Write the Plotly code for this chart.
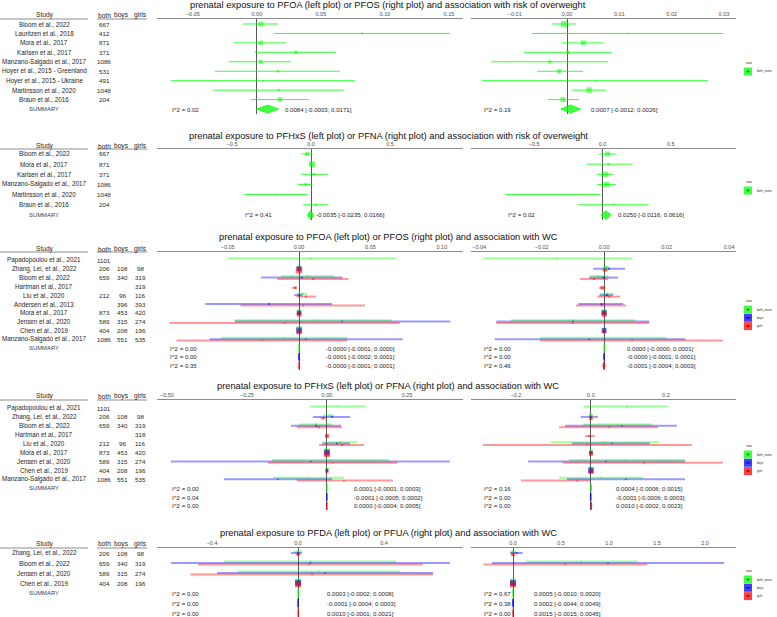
import plotly.graph_objects as go

# ======================= DATA =======================
# ---- Panel 1: risk of overweight, PFOA (left) / PFOS (right)
p1_title = "prenatal exposure to PFOA (left plot) or PFOS (right plot) and association with risk of overweight"
p1_studies = ["Bloom et al., 2022", "Lauritzen et al., 2018", "Mora et al., 2017",
              "Karlsen et al., 2017", "Manzano-Salgado et al., 2017",
              "Hoyer et al., 2015 - Greenland", "Hoyer et al., 2015 - Ukraine",
              "Martinsson et al., 2020", "Braun et al., 2016"]
p1_n_both = [667, 412, 871, 371, 1086, 531, 491, 1048, 204]
p1_pfoa_est = [0.0031, 0.082, 0.003, 0.0305, 0.003, 0.0164, 0.0047, 0.0172, 0.018]
p1_pfoa_lo = [-0.011, 0.0133, -0.018, -0.0016, -0.0219, -0.0328, -0.0672, -0.0344, -0.0047]
p1_pfoa_hi = [0.0164, 0.151, 0.0227, 0.0617, 0.0266, 0.0648, 0.0766, 0.068, 0.0406]
p1_pfoa_wt = [5, 2, 4.5, 3.5, 4, 2.5, 1.5, 2.5, 4.5]
p1_pfoa_sum = [0.0084, -0.0003, 0.0171]
p1_pfoa_i2 = 0.02
p1_pfos_est = [-0.0006, 0.0117, 0.0031, 0.0002, -0.0033, -0.0015, 0.0055, 0.0042, -0.0008]
p1_pfos_lo = [-0.0029, -0.0067, -0.001, -0.0082, -0.0145, -0.0057, -0.0163, 0.001, -0.0036]
p1_pfos_hi = [0.0017, 0.0298, 0.0071, 0.0086, 0.0078, 0.0031, 0.027, 0.0075, 0.0023]
p1_pfos_wt = [6, 1.5, 5, 3.5, 3, 4.5, 1.5, 5.5, 5]
p1_pfos_sum = [0.0007, -0.0012, 0.0026]
p1_pfos_i2 = 0.19

# ---- Panel 2: risk of overweight, PFHxS (left) / PFNA (right)
p2_title = "prenatal exposure to PFHxS (left plot) or PFNA (right plot) and association with risk of overweight"
p2_studies = ["Bloom et al., 2022", "Mora et al., 2017", "Karlsen et al., 2017",
              "Manzano-Salgado et al., 2017", "Martinsson et al., 2020", "Braun et al., 2016"]
p2_n_both = [667, 871, 371, 1086, 1048, 204]
p2_pfhxs_est = [-0.025, 0.006, 0.019, -0.032, -0.228, 0.032]
p2_pfhxs_lo = [-0.063, -0.01, -0.063, -0.082, -0.424, -0.051]
p2_pfhxs_hi = [0.006, 0.022, 0.108, 0.006, -0.025, 0.108]
p2_pfhxs_wt = [4, 6, 2.5, 3, 1.5, 2.5]
p2_pfhxs_sum = [-0.0035, -0.0235, 0.0166]
p2_pfhxs_i2 = 0.41
p2_pfna_est = [0.037, 0.044, 0.022, 0.029, -0.36, 0.081]
p2_pfna_lo = [-0.029, -0.118, -0.044, -0.037, -0.713, -0.176]
p2_pfna_hi = [0.103, 0.22, 0.081, 0.096, -0.015, 0.338]
p2_pfna_wt = [5, 2.5, 5.5, 5.5, 1.5, 2]
p2_pfna_sum = [0.0250, -0.0116, 0.0616]
p2_pfna_i2 = 0.02

# ---- Panel 3: WC, PFOA (left) / PFOS (right), by sex
p3_title = "prenatal exposure to PFOA (left plot) or PFOS (right plot) and association with WC"
p3_studies = ["Papadopoulou et al., 2021", "Zhang, Lei, et al., 2022", "Bloom et al., 2022",
              "Hartman et al., 2017", "Liu et al., 2020", "Andersen et al., 2013",
              "Mora et al., 2017", "Jensen et al., 2020", "Chen et al., 2019",
              "Manzano-Salgado et al., 2017"]
p3_n_both = [1101, 206, 659, None, 212, None, 873, 589, 404, 1086]
p3_n_boys = [None, 108, 340, None, 96, 396, 453, 315, 208, 551]
p3_n_girls = [None, 98, 319, 319, 116, 393, 420, 274, 196, 535]
p3_pfoa_est_both = [0.0085, 0.0, 0.0057, None, 0.0024, None, 0.0, 0.0099, 0.0, -0.0106]
p3_pfoa_lo_both = [-0.050, -0.001, -0.0127, None, -0.0016, None, -0.0015, -0.0452, -0.001, -0.0549]
p3_pfoa_hi_both = [0.0676, 0.001, 0.0246, None, 0.0057, None, 0.0015, 0.0646, 0.001, 0.0338]
p3_pfoa_wt_both = [1.5, 4, 2, None, 2, None, 4, 1.5, 5, 1.5]
p3_pfoa_est_boys = [None, 0.0, 0.0021, None, 0.0, -0.0211, 0.0, 0.0302, 0.0, 0.0047]
p3_pfoa_lo_boys = [None, -0.001, -0.0268, None, -0.0035, -0.0657, -0.0015, -0.045, -0.001, -0.0628]
p3_pfoa_hi_boys = [None, 0.001, 0.0304, None, 0.0024, 0.0230, 0.0015, 0.106, 0.001, 0.0725]
p3_pfoa_wt_boys = [None, 5, 2, None, 2, 2, 4.5, 1.5, 6, 1.5]
p3_pfoa_est_girls = [None, 0.0, 0.0099, -0.0028, 0.0047, 0.0028, 0.0, -0.0099, 0.0, -0.026]
p3_pfoa_lo_girls = [None, -0.001, -0.0153, -0.0049, -0.0019, -0.0411, -0.0015, -0.0908, -0.001, -0.0859]
p3_pfoa_hi_girls = [None, 0.001, 0.0346, -0.0014, 0.0117, 0.0462, 0.0015, 0.0704, 0.001, 0.0338]
p3_pfoa_wt_girls = [None, 6.5, 2, 2.5, 2, 1.5, 4.5, 1.5, 5, 1.5]
p3_pfoa_sum_both = [-0.00002, -0.0001, 0.00004]
p3_pfoa_sum_boys = [-0.0001, -0.0002, 0.0001]
p3_pfoa_sum_girls = [-0.00002, -0.0001, 0.0001]
p3_pfoa_i2 = [0.00, 0.00, 0.35]
p3_pfos_est_both = [-0.0150, 0.0006, -0.0019, None, 0.001, None, 0.0, -0.010, 0.0, -0.0002]
p3_pfos_lo_both = [-0.0387, -0.0005, -0.0045, None, -0.0013, None, -0.0008, -0.0298, -0.0005, -0.0205]
p3_pfos_hi_both = [0.0090, 0.0017, 0.0013, None, 0.0032, None, 0.0008, 0.0099, 0.0005, 0.020]
p3_pfos_wt_both = [1.5, 3, 2, None, 2, None, 4.5, 1.5, 3, 1.5]
p3_pfos_est_boys = [None, 0.0016, -0.0003, None, 0.0009, -0.0008, 0.0, -0.010, 0.0, -0.0048]
p3_pfos_lo_boys = [None, -0.0035, -0.0048, None, -0.0015, -0.0083, -0.0008, -0.0345, -0.0005, -0.035]
p3_pfos_hi_boys = [None, 0.0067, 0.0045, None, 0.0028, 0.0061, 0.0008, 0.0144, 0.0005, 0.026]
p3_pfos_wt_boys = [None, 2, 2, None, 2, 2, 5, 1.5, 5, 1.5]
p3_pfos_est_girls = [None, 0.0003, -0.0032, -0.0006, 0.0016, -0.0008, 0.0, -0.010, 0.0, 0.009]
p3_pfos_lo_girls = [None, -0.0006, -0.0077, -0.0016, -0.0022, -0.009, -0.0008, -0.0345, -0.0006, -0.0205]
p3_pfos_hi_girls = [None, 0.0012, 0.0013, 0.0004, 0.0051, 0.007, 0.0008, 0.0144, 0.0006, 0.038]
p3_pfos_wt_girls = [None, 3, 2, 3.5, 2, 2, 5, 1.5, 3.5, 1.5]
p3_pfos_sum_both = [0.00003, -0.00002, 0.0001]
p3_pfos_sum_boys = [-0.00002, -0.0001, 0.0001]
p3_pfos_sum_girls = [-0.0001, -0.0004, 0.0003]
p3_pfos_i2 = [0.00, 0.00, 0.46]

# ---- Panel 4: WC, PFHxS (left) / PFNA (right), by sex
p4_title = "prenatal exposure to PFHxS (left plot) or PFNA (right plot) and association with WC"
p4_studies = ["Papadopoulou et al., 2021", "Zhang, Lei, et al., 2022", "Bloom et al., 2022",
              "Hartman et al., 2017", "Liu et al., 2020", "Mora et al., 2017",
              "Jensen et al., 2020", "Chen et al., 2019", "Manzano-Salgado et al., 2017"]
p4_n_both = [1101, 206, 659, None, 212, 873, 589, 404, 1086]
p4_n_boys = [None, 108, 340, None, 96, 453, 315, 208, 551]
p4_n_girls = [None, 98, 319, 318, 116, 420, 274, 196, 535]
p4_pfhxs_est_both = [0.034, 0.009, -0.034, None, 0.041, 0.0, 0.009, 0.0, -0.059]
p4_pfhxs_lo_both = [-0.053, -0.013, -0.0875, None, -0.013, -0.005, -0.172, -0.005, -0.166]
p4_pfhxs_hi_both = [0.122, 0.022, 0.016, None, 0.094, 0.005, 0.195, 0.005, 0.053]
p4_pfhxs_wt_both = [1.5, 2, 2, None, 2, 5, 1.5, 2.5, 1.5]
p4_pfhxs_est_boys = [None, 0.016, -0.034, None, 0.031, 0.0, -0.05, 0.0, -0.153]
p4_pfhxs_lo_boys = [None, -0.044, -0.1125, None, -0.016, -0.005, -0.4875, -0.005, -0.322]
p4_pfhxs_hi_boys = [None, 0.072, 0.044, None, 0.072, 0.005, 0.384, 0.005, 0.016]
p4_pfhxs_wt_boys = [None, 2, 2, None, 2, 6, 1.5, 2.5, 1.5]
p4_pfhxs_est_girls = [None, -0.012, -0.025, 0.0, 0.047, 0.0, 0.019, 0.0, 0.053]
p4_pfhxs_lo_girls = [None, -0.02, -0.094, -0.005, -0.025, -0.005, -0.184, -0.005, -0.094]
p4_pfhxs_hi_girls = [None, -0.004, 0.047, 0.005, 0.116, 0.005, 0.219, 0.005, 0.206]
p4_pfhxs_wt_girls = [None, 2, 2, 4, 2, 6, 1.5, 2.5, 1.5]
p4_pfhxs_sum_both = [0.0001, -0.0001, 0.0003]
p4_pfhxs_sum_boys = [-0.0001, -0.0005, 0.0002]
p4_pfhxs_sum_girls = [0.00003, -0.0004, 0.0005]
p4_pfhxs_i2 = [0.00, 0.04, 0.00]
p4_pfna_est_both = [0.096, 0.0, 0.069, None, 0.037, 0.0, 0.093, 0.0, 0.027]
p4_pfna_lo_both = [-0.019, -0.005, -0.021, None, -0.107, -0.005, -0.059, -0.005, -0.085]
p4_pfna_hi_both = [0.205, 0.005, 0.163, None, 0.181, 0.005, 0.251, 0.005, 0.139]
p4_pfna_wt_both = [1.5, 3.5, 1.5, None, 1.5, 3, 1.5, 3, 1.5]
p4_pfna_est_boys = [None, 0.0, 0.083, None, 0.056, 0.0, 0.04, 0.0, 0.093]
p4_pfna_lo_boys = [None, -0.027, -0.069, None, -0.051, -0.005, -0.168, -0.005, -0.064]
p4_pfna_hi_boys = [None, 0.019, 0.229, None, 0.157, 0.005, 0.251, 0.005, 0.251]
p4_pfna_wt_boys = [None, 2, 1.5, None, 1.5, 3, 1.5, 6, 1.5]
p4_pfna_est_girls = [None, 0.0, 0.048, -0.005, -0.011, 0.0, 0.141, 0.0, -0.037]
p4_pfna_lo_girls = [None, -0.004, -0.085, -0.016, -0.288, -0.005, -0.075, -0.005, -0.187]
p4_pfna_hi_girls = [None, 0.004, 0.179, 0.011, 0.269, 0.005, 0.352, 0.005, -0.003]
p4_pfna_wt_girls = [None, 3.5, 1.5, 2, 1.5, 4, 1.5, 4.5, 1.5]
p4_pfna_sum_both = [0.0004, -0.0006, 0.0015]
p4_pfna_sum_boys = [-0.0001, -0.0006, 0.0003]
p4_pfna_sum_girls = [0.0010, -0.0002, 0.0023]
p4_pfna_i2 = [0.16, 0.00, 0.00]

# ---- Panel 5: WC, PFDA (left) / PFUA (right), by sex
p5_title = "prenatal exposure to PFDA (left plot) or PFUA (right plot) and association with WC"
p5_studies = ["Zhang, Lei, et al., 2022", "Bloom et al., 2022", "Jensen et al., 2020", "Chen et al., 2019"]
p5_n_both = [206, 659, 589, 404]
p5_n_boys = [108, 340, 315, 208]
p5_n_girls = [98, 319, 274, 196]
p5_pfda_est_both = [0.0, 0.056, 0.098, 0.0]
p5_pfda_lo_both = [-0.02, -0.344, -0.28, -0.01]
p5_pfda_hi_both = [0.02, 0.456, 0.474, 0.01]
p5_pfda_wt_both = [2, 1.5, 1.5, 6]
p5_pfda_est_boys = [0.0, 0.058, 0.126, 0.0]
p5_pfda_lo_boys = [-0.033, -0.59, -0.377, -0.01]
p5_pfda_hi_boys = [0.019, 0.707, 0.628, 0.01]
p5_pfda_wt_boys = [2, 1.5, 1.5, 6]
p5_pfda_est_girls = [0.0, 0.05, 0.065, 0.0]
p5_pfda_lo_girls = [-0.01, -0.465, -0.50, -0.01]
p5_pfda_hi_girls = [0.01, 0.58, 0.628, 0.01]
p5_pfda_wt_girls = [3, 1.5, 1.5, 6]
p5_pfda_sum_both = [0.0003, -0.0002, 0.0008]
p5_pfda_sum_boys = [-0.0001, -0.0004, 0.0003]
p5_pfda_sum_girls = [0.0010, -0.0001, 0.0021]
p5_pfda_i2 = [0.00, 0.00, 0.00]
p5_pfua_est_both = [0.0, 0.71, None, 0.0]
p5_pfua_lo_both = [-0.03, 0.135, None, -0.02]
p5_pfua_hi_both = [0.03, 1.30, None, 0.02]
p5_pfua_wt_both = [2, 1.5, None, 6]
p5_pfua_est_boys = [0.04, 0.99, None, 0.0]
p5_pfua_lo_boys = [-0.03, -0.22, None, -0.02]
p5_pfua_hi_boys = [0.10, 2.2, None, 0.02]
p5_pfua_wt_boys = [2, 1.5, None, 6]
p5_pfua_est_girls = [0.0, 0.54, None, 0.0]
p5_pfua_lo_girls = [-0.02, -0.31, None, -0.02]
p5_pfua_hi_girls = [0.02, 1.40, None, 0.02]
p5_pfua_wt_girls = [3.5, 1.5, None, 6]
p5_pfua_sum_both = [0.0005, -0.0010, 0.0020]
p5_pfua_sum_boys = [0.0002, -0.0044, 0.0049]
p5_pfua_sum_girls = [0.0015, -0.0015, 0.0045]
p5_pfua_i2 = [0.67, 0.38, 0.00]

sex_labels = ["both_sexes", "boys", "girls"]

# ======================= STRUCTURE (built from the arrays) =======================
def ser(est, lo, hi, wt, summ):
    return dict(est=est, lo=lo, hi=hi, wt=wt, summ=summ)

panels = [
    dict(title=p1_title, studies=p1_studies, n=[p1_n_both, None, None], sexes=["both"],
         left=dict(both=ser(p1_pfoa_est, p1_pfoa_lo, p1_pfoa_hi, p1_pfoa_wt, p1_pfoa_sum)), left_i2=[p1_pfoa_i2],
         right=dict(both=ser(p1_pfos_est, p1_pfos_lo, p1_pfos_hi, p1_pfos_wt, p1_pfos_sum)), right_i2=[p1_pfos_i2]),
    dict(title=p2_title, studies=p2_studies, n=[p2_n_both, None, None], sexes=["both"],
         left=dict(both=ser(p2_pfhxs_est, p2_pfhxs_lo, p2_pfhxs_hi, p2_pfhxs_wt, p2_pfhxs_sum)), left_i2=[p2_pfhxs_i2],
         right=dict(both=ser(p2_pfna_est, p2_pfna_lo, p2_pfna_hi, p2_pfna_wt, p2_pfna_sum)), right_i2=[p2_pfna_i2]),
    dict(title=p3_title, studies=p3_studies, n=[p3_n_both, p3_n_boys, p3_n_girls], sexes=["both", "boys", "girls"],
         left=dict(both=ser(p3_pfoa_est_both, p3_pfoa_lo_both, p3_pfoa_hi_both, p3_pfoa_wt_both, p3_pfoa_sum_both),
                   boys=ser(p3_pfoa_est_boys, p3_pfoa_lo_boys, p3_pfoa_hi_boys, p3_pfoa_wt_boys, p3_pfoa_sum_boys),
                   girls=ser(p3_pfoa_est_girls, p3_pfoa_lo_girls, p3_pfoa_hi_girls, p3_pfoa_wt_girls, p3_pfoa_sum_girls)),
         left_i2=p3_pfoa_i2,
         right=dict(both=ser(p3_pfos_est_both, p3_pfos_lo_both, p3_pfos_hi_both, p3_pfos_wt_both, p3_pfos_sum_both),
                    boys=ser(p3_pfos_est_boys, p3_pfos_lo_boys, p3_pfos_hi_boys, p3_pfos_wt_boys, p3_pfos_sum_boys),
                    girls=ser(p3_pfos_est_girls, p3_pfos_lo_girls, p3_pfos_hi_girls, p3_pfos_wt_girls, p3_pfos_sum_girls)),
         right_i2=p3_pfos_i2),
    dict(title=p4_title, studies=p4_studies, n=[p4_n_both, p4_n_boys, p4_n_girls], sexes=["both", "boys", "girls"],
         left=dict(both=ser(p4_pfhxs_est_both, p4_pfhxs_lo_both, p4_pfhxs_hi_both, p4_pfhxs_wt_both, p4_pfhxs_sum_both),
                   boys=ser(p4_pfhxs_est_boys, p4_pfhxs_lo_boys, p4_pfhxs_hi_boys, p4_pfhxs_wt_boys, p4_pfhxs_sum_boys),
                   girls=ser(p4_pfhxs_est_girls, p4_pfhxs_lo_girls, p4_pfhxs_hi_girls, p4_pfhxs_wt_girls, p4_pfhxs_sum_girls)),
         left_i2=p4_pfhxs_i2,
         right=dict(both=ser(p4_pfna_est_both, p4_pfna_lo_both, p4_pfna_hi_both, p4_pfna_wt_both, p4_pfna_sum_both),
                    boys=ser(p4_pfna_est_boys, p4_pfna_lo_boys, p4_pfna_hi_boys, p4_pfna_wt_boys, p4_pfna_sum_boys),
                    girls=ser(p4_pfna_est_girls, p4_pfna_lo_girls, p4_pfna_hi_girls, p4_pfna_wt_girls, p4_pfna_sum_girls)),
         right_i2=p4_pfna_i2),
    dict(title=p5_title, studies=p5_studies, n=[p5_n_both, p5_n_boys, p5_n_girls], sexes=["both", "boys", "girls"],
         left=dict(both=ser(p5_pfda_est_both, p5_pfda_lo_both, p5_pfda_hi_both, p5_pfda_wt_both, p5_pfda_sum_both),
                   boys=ser(p5_pfda_est_boys, p5_pfda_lo_boys, p5_pfda_hi_boys, p5_pfda_wt_boys, p5_pfda_sum_boys),
                   girls=ser(p5_pfda_est_girls, p5_pfda_lo_girls, p5_pfda_hi_girls, p5_pfda_wt_girls, p5_pfda_sum_girls)),
         left_i2=p5_pfda_i2,
         right=dict(both=ser(p5_pfua_est_both, p5_pfua_lo_both, p5_pfua_hi_both, p5_pfua_wt_both, p5_pfua_sum_both),
                    boys=ser(p5_pfua_est_boys, p5_pfua_lo_boys, p5_pfua_hi_boys, p5_pfua_wt_boys, p5_pfua_sum_boys),
                    girls=ser(p5_pfua_est_girls, p5_pfua_lo_girls, p5_pfua_hi_girls, p5_pfua_wt_girls, p5_pfua_sum_girls)),
         right_i2=p5_pfua_i2),
]

# ======================= LAYOUT / STYLE =======================
W, H = 777, 617
FONT = "Liberation Sans, Arial, sans-serif"
TXT = "#262626"
LEFT_DOM = [157 / W, 463 / W]
RIGHT_DOM = [471 / W, 736 / W]
geom = [
    dict(title_y=5, head_y=15.5, line_y=19, bottom=114, r0=24, sp=9.45, legend_y=63,
         lrange=[-0.078, 0.161], ldt=0.05, lfmt=".2f", rrange=[-0.01836, 0.0323], rdt=0.01, rfmt=".2f",
         l_i2x=-0.068, l_estx=0.0203, r_i2x=-0.0163, r_estx=0.0042),
    dict(title_y=136, head_y=146, line_y=149, bottom=220, r0=154, sp=10.15, legend_y=182,
         lrange=[-0.975, 0.962], ldt=0.5, lfmt=".1f", rrange=[-0.963, 0.978], rdt=0.5, rfmt=".1f",
         l_i2x=-0.43, l_estx=0.02, r_i2x=-0.706, r_estx=0.096),
    dict(title_y=237, head_y=249, line_y=252, bottom=370, r0=260, sp=8.8, legend_y=301,
         lrange=[-0.0995, 0.1148], ldt=0.05, lfmt=".2f", rrange=[-0.0426, 0.0422], rdt=0.02, rfmt=".2f",
         l_i2x=-0.0915, l_estx=0.0176, r_i2x=-0.039, r_estx=0.0067),
    dict(title_y=386, head_y=396.5, line_y=400, bottom=510, r0=408, sp=8.9, legend_y=446,
         lrange=[-0.531, 0.425], ldt=0.25, lfmt=".2f", rrange=[-0.32, 0.387], rdt=0.2, rfmt=".1f",
         l_i2x=-0.49, l_estx=0.078, r_i2x=-0.29, r_estx=0.061),
    dict(title_y=533, head_y=543.5, line_y=548, bottom=617, r0=553, sp=10.0, legend_y=571,
         lrange=[-0.656, 0.767], ldt=0.4, lfmt=".1f", rrange=[-0.4375, 2.323], rdt=0.5, rfmt=".1f",
         l_i2x=-0.595, l_estx=0.126, r_i2x=-0.323, r_estx=0.198),
]
SEX_RGB = {"both": (0, 255, 0), "boys": (0, 0, 255), "girls": (255, 0, 0)}
SEX_OFF_PX = {"both": -1.4, "boys": 0.0, "girls": 1.4}


def rgba(c, a):
    return f"rgba({c[0]},{c[1]},{c[2]},{a})"


def fy(py):
    return 1 - py / H


fig = go.Figure()
layout = dict(width=W, height=H, margin=dict(l=0, r=0, t=0, b=0), autosize=False,
              paper_bgcolor="white", plot_bgcolor="rgba(0,0,0,0)", showlegend=False,
              font=dict(family=FONT, color=TXT))
annotations = []
shapes = []


def ann(text, x, y, xref, yref, size, xanchor="center", color=TXT):
    annotations.append(dict(text=text, x=x, y=y, xref=xref, yref=yref, showarrow=False,
                            xanchor=xanchor, yanchor="middle", font=dict(size=size, color=color, family=FONT)))


def draw_plot(side_data, i2s, sexes, xa, ya, g, multi, n_rows, i2x, estx):
    yoff = {s: (SEX_OFF_PX[s] / g["sp"] if multi else 0.0) for s in sexes}
    # confidence intervals
    for s in sexes:
        d = side_data[s]
        xs, ys = [], []
        for r in range(n_rows):
            if d["est"][r] is None:
                continue
            xs += [d["lo"][r], d["hi"][r], None]
            ys += [r + yoff[s]] * 2 + [None]
        fig.add_trace(go.Scatter(x=xs, y=ys, xaxis=xa, yaxis=ya, mode="lines", hoverinfo="skip",
                                 line=dict(color=rgba(SEX_RGB[s], 0.4 if multi else 0.8),
                                           width=2 if multi else 1)))
    # point estimates (size ~ weight)
    for s in sexes:
        d = side_data[s]
        idx = [r for r in range(n_rows) if d["est"][r] is not None]
        fig.add_trace(go.Scatter(x=[d["est"][r] for r in idx], y=[r + yoff[s] for r in idx],
                                 xaxis=xa, yaxis=ya, mode="markers", hoverinfo="skip",
                                 marker=dict(symbol="square", size=[d["wt"][r] for r in idx],
                                             color=rgba(SEX_RGB[s], 0.75), line=dict(width=0))))
    # summary diamonds + labels
    for k, s in enumerate(sexes):
        est, lo, hi = side_data[s]["summ"]
        r = n_rows + k
        h = 0.42
        fig.add_trace(go.Scatter(x=[lo, est, hi, est, lo], y=[r, r - h, r, r + h, r], xaxis=xa, yaxis=ya,
                                 mode="lines", fill="toself", hoverinfo="skip",
                                 fillcolor=rgba(SEX_RGB[s], 0.75),
                                 line=dict(color=rgba(SEX_RGB[s], 0.75), width=1)))
        ann(f"I^2 = {i2s[k]:.2f}", i2x, r, xa, ya, 6.1, "left")
        ann(f"{est:.4f} [{lo:.4f}; {hi:.4f}]", estx, r, xa, ya, 6.1, "left")


for p_i, (P, g) in enumerate(zip(panels, geom)):
    yname = "y" if p_i == 0 else f"y{p_i + 1}"
    ykey = "yaxis" if p_i == 0 else f"yaxis{p_i + 1}"
    lx_i, rx_i = 2 * p_i + 1, 2 * p_i + 2
    lxname = "x" if lx_i == 1 else f"x{lx_i}"
    rxname = f"x{rx_i}"
    multi = len(P["sexes"]) > 1
    n_rows = len(P["studies"])
    y_lo_val = (g["bottom"] - g["r0"]) / g["sp"]
    y_hi_val = (g["line_y"] - g["r0"]) / g["sp"]
    layout[ykey] = dict(domain=[fy(g["bottom"]), fy(g["line_y"])], range=[y_lo_val, y_hi_val],
                        visible=False, fixedrange=True, anchor=lxname)
    for xi, dom, rng, dt, fmt in [(lx_i, LEFT_DOM, g["lrange"], g["ldt"], g["lfmt"]),
                                  (rx_i, RIGHT_DOM, g["rrange"], g["rdt"], g["rfmt"])]:
        key = "xaxis" if xi == 1 else f"xaxis{xi}"
        layout[key] = dict(domain=dom, range=rng, anchor=yname, side="top", showline=True,
                           linecolor="#8c8c8c", linewidth=1, showgrid=False, zeroline=True,
                           zerolinecolor="#595959", zerolinewidth=1, tick0=0, dtick=dt, tickformat=fmt,
                           ticks="", tickfont=dict(size=5.5, color="#4d4d4d", family=FONT), fixedrange=True)

    draw_plot(P["left"], P["left_i2"], P["sexes"], lxname, yname, g, multi, n_rows, g["l_i2x"], g["l_estx"])
    draw_plot(P["right"], P["right_i2"], P["sexes"], rxname, yname, g, multi, n_rows, g["r_i2x"], g["r_estx"])

    # title
    ann(P["title"], 388 / W, fy(g["title_y"]), "paper", "paper", 9.3, color="#111111")
    # table header
    ann("Study", 45 / W, fy(g["head_y"]), "paper", "paper", 6.6)
    for txt, cx in zip(["both", "boys", "girls"], [104, 121, 140]):
        ann(txt, cx / W, fy(g["head_y"]), "paper", "paper", 6.6)
    for x0, x1 in [(0, 88), (97, 147)]:
        shapes.append(dict(type="line", xref="paper", yref="paper", x0=x0 / W, x1=x1 / W,
                           y0=fy(g["line_y"]), y1=fy(g["line_y"]), line=dict(color="#8c8c8c", width=1)))
    # table body
    for r, name in enumerate(P["studies"]):
        ann(name, 44 / W, r, "paper", yname, 6.3)
        for col, cx in zip(P["n"], [104.5, 122, 140]):
            if col is not None and col[r] is not None:
                ann(str(col[r]), cx / W, r, "paper", yname, 6.2)
    ann("SUMMARY", 44 / W, n_rows, "paper", yname, 5.9, color="#404040")

    # sex legend (key boxes at the right)
    ann("sex", 743.5 / W, fy(g["legend_y"]), "paper", "paper", 3.8, "left")
    for k, s in enumerate(P["sexes"]):
        top = g["legend_y"] + 4.5 + k * 8.3
        shapes.append(dict(type="rect", xref="paper", yref="paper", x0=744 / W, x1=752 / W,
                           y0=fy(top + 8), y1=fy(top), line=dict(width=0),
                           fillcolor=rgba(SEX_RGB[s], 0.75)))
        shapes.append(dict(type="line", xref="paper", yref="paper", x0=745 / W, x1=751 / W,
                           y0=fy(top + 4), y1=fy(top + 4), line=dict(width=0.6, color=rgba(SEX_RGB[s], 1.0))))
        shapes.append(dict(type="rect", xref="paper", yref="paper", x0=747 / W, x1=749 / W,
                           y0=fy(top + 5), y1=fy(top + 3), line=dict(width=0),
                           fillcolor="rgba(0,0,0,0.45)"))
        ann(sex_labels[k], 755 / W, fy(top + 4), "paper", "paper", 2.9, "left")

layout["annotations"] = annotations
layout["shapes"] = shapes
fig.update_layout(**layout)
fig.write_html("out.html", config={"displayModeBar": False},
               post_script="document.body.style.margin='0';document.body.style.overflow='hidden';")
